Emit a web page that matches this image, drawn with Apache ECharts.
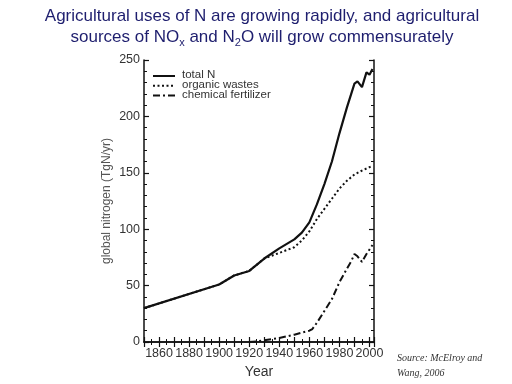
<!DOCTYPE html>
<html><head><meta charset="utf-8">
<script src="https://cdn.jsdelivr.net/npm/echarts@6/dist/echarts.min.js"></script>
<style>html,body{margin:0;padding:0;background:#fff}#c{width:512px;height:384px}</style>
</head><body><div id="c"></div>
<script>
const totalYears = [1850,1900,1910,1920,1930,1940,1950,1955,1960,1965,1970,1975,1980,1985,1990,1992,1995,1998,2000,2002];
const totalValues = [30,51,59,63,74,83,91,97,106,122,140,160,185,208,229,231,226,239,237,242];
const organicYears = [1850,1900,1910,1920,1930,1940,1950,1955,1960,1965,1970,1975,1980,1985,1990,1995,2000,2002];
const organicValues = [30,51,59,63,74,79,84,90,98,109,118,127,136,143,148.5,152,155,156];
const fertYears = [1920,1925,1930,1940,1950,1960,1962,1965,1970,1975,1980,1985,1988,1990,1992,1995,1998,2000,2002];
const fertValues = [0,0.5,1.5,3.5,6.5,10,11.5,17,27.5,38,53,65,72,78,76,71,78,82,86];
const seriesNames = ['total N','organic wastes','chemical fertilizer'];
const xLabelStep = 20;

function pairs(xs, ys){ return xs.map((x,i)=>[x, ys[i]]); }

const chart = echarts.init(document.getElementById('c'));
const ink = '#111';
const dashes = [null, [2,2.5], [7,3,2,3]];
const axisCommon = {
  axisLine:{show:true, lineStyle:{color:ink, width:1.5}},
  axisTick:{show:true, inside:true, length:5, lineStyle:{color:ink, width:1.2}},
  minorTick:{show:true, splitNumber:2, length:3, lineStyle:{color:ink, width:1}},
  splitLine:{show:false}
};
// legend drawn as graphic items (line sample + label)
const legendGraphics = [];
seriesNames.forEach((n,i)=>{
  const y = 76 + i*9.7;
  legendGraphics.push({type:'line', shape:{x1:153, y1:y, x2:175, y2:y},
    style:{stroke:ink, lineWidth:2, lineDash:dashes[i] || null}});
  legendGraphics.push({type:'text', left:182, top:y-7,
    style:{text:n, font:'11.5px "Liberation Sans"', fill:'#333'}});
});
chart.setOption({
  animation:false,
  title:{
    text:'Agricultural uses of N are growing rapidly, and agricultural\nsources of NO{sub|x} and N{sub|2}O will grow commensurately',
    left:257, textAlign:'center', top:1,
    textStyle:{fontFamily:'Liberation Sans', fontSize:17, fontWeight:'normal', color:'#1e1e6e', lineHeight:21,
      rich:{sub:{fontFamily:'Liberation Sans', fontSize:11, color:'#1e1e6e', verticalAlign:'bottom', lineHeight:13, padding:[5,0,0,0]}}}
  },
  grid:{left:144, right:138, top:60, bottom:38},
  xAxis:[
    Object.assign({}, axisCommon, {
      type:'value', min:1850, max:2003, interval:10, position:'bottom',
      axisLabel:{color:'#333', fontFamily:'Liberation Sans', fontSize:12.5, margin:5,
        formatter:v=> (v % xLabelStep === 0 ? String(v) : '')},
      name:'Year', nameLocation:'middle', nameGap:23,
      nameTextStyle:{color:'#333', fontFamily:'Liberation Sans', fontSize:14}
    }),
    Object.assign({}, axisCommon, {
      type:'value', min:1850, max:2003, interval:10, position:'top',
      axisLabel:{show:false}
    })
  ],
  yAxis:[
    Object.assign({}, axisCommon, {
      type:'value', min:0, max:250, interval:50, position:'left',
      minorTick:{show:true, splitNumber:5, length:3, lineStyle:{color:ink, width:1}},
      axisLabel:{color:'#333', fontFamily:'Liberation Sans', fontSize:12.5, margin:4},
      name:'global nitrogen (TgN/yr)', nameLocation:'middle', nameGap:31, nameRotate:90,
      nameTextStyle:{color:'#555', fontFamily:'Liberation Sans', fontSize:12}
    }),
    Object.assign({}, axisCommon, {
      type:'value', min:0, max:250, interval:50, position:'right',
      minorTick:{show:true, splitNumber:5, length:3, lineStyle:{color:ink, width:1}},
      axisLabel:{show:false}
    })
  ],
  series:[
    {name:seriesNames[1], type:'line', symbol:'none', data:pairs(organicYears, organicValues),
      lineStyle:{color:ink, width:2, type:dashes[1]}, z:2},
    {name:seriesNames[2], type:'line', symbol:'none', data:pairs(fertYears, fertValues),
      lineStyle:{color:ink, width:2, type:dashes[2]}, z:2},
    {name:seriesNames[0], type:'line', symbol:'none', data:pairs(totalYears, totalValues),
      lineStyle:{color:ink, width:2.2}, z:3}
  ],
  graphic:legendGraphics.concat([
    {type:'text', left:397, top:351, style:{text:'Source: McElroy and\nWang, 2006', font:'italic 10px "Liberation Serif"', fill:'#333', lineHeight:15}}
  ])
});
</script></body></html>
